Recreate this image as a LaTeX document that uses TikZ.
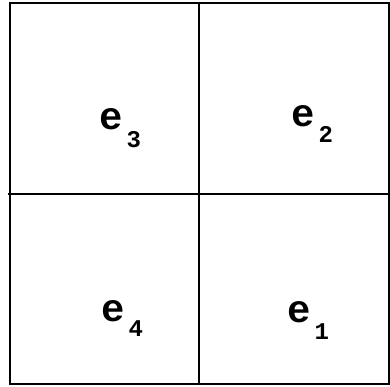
\documentclass[tikz,border=0pt]{standalone}
\usepackage{fontspec}
\setmonofont{Liberation Mono}
\usetikzlibrary{positioning}

\begin{document}
\begin{tikzpicture}[
    x=1pt, y=-1pt,
    grid line/.style={
        line width=1.5pt
    },
    elem label/.style={
        anchor=base west,
        inner sep=0pt,
        font=\ttfamily\bfseries\fontsize{39}{39}\selectfont
    }
]

% Subscripted element name
\newcommand{\elemname}[2]{e\hspace{4pt}\raisebox{-#2pt}{\fontsize{24}{24}\selectfont #1}}

\useasboundingbox (0,0) rectangle (390,387);

% Corner points
\coordinate (NW) at (10,3);
\coordinate (SE) at (389,384);
\coordinate (W) at (8,194);
\coordinate (E) at (389,194);
\coordinate (N) at (199,3);
\coordinate (S) at (199,384);

% Square and its quarters
\draw[grid line] (NW) rectangle (SE);
\draw[grid line] (W) -- (E);
\draw[grid line] (N) -- (S);

% Element labels
\node[elem label] (e3) at (99,130) {\elemname{3}{18}};
\node[elem label] (e2) at (291,127) {\elemname{2}{16}};
\node[elem label] (e4) at (101,321) {\elemname{4}{15}};
\node[elem label] (e1) at (287,322) {\elemname{1}{17}};

\end{tikzpicture}
\end{document}
